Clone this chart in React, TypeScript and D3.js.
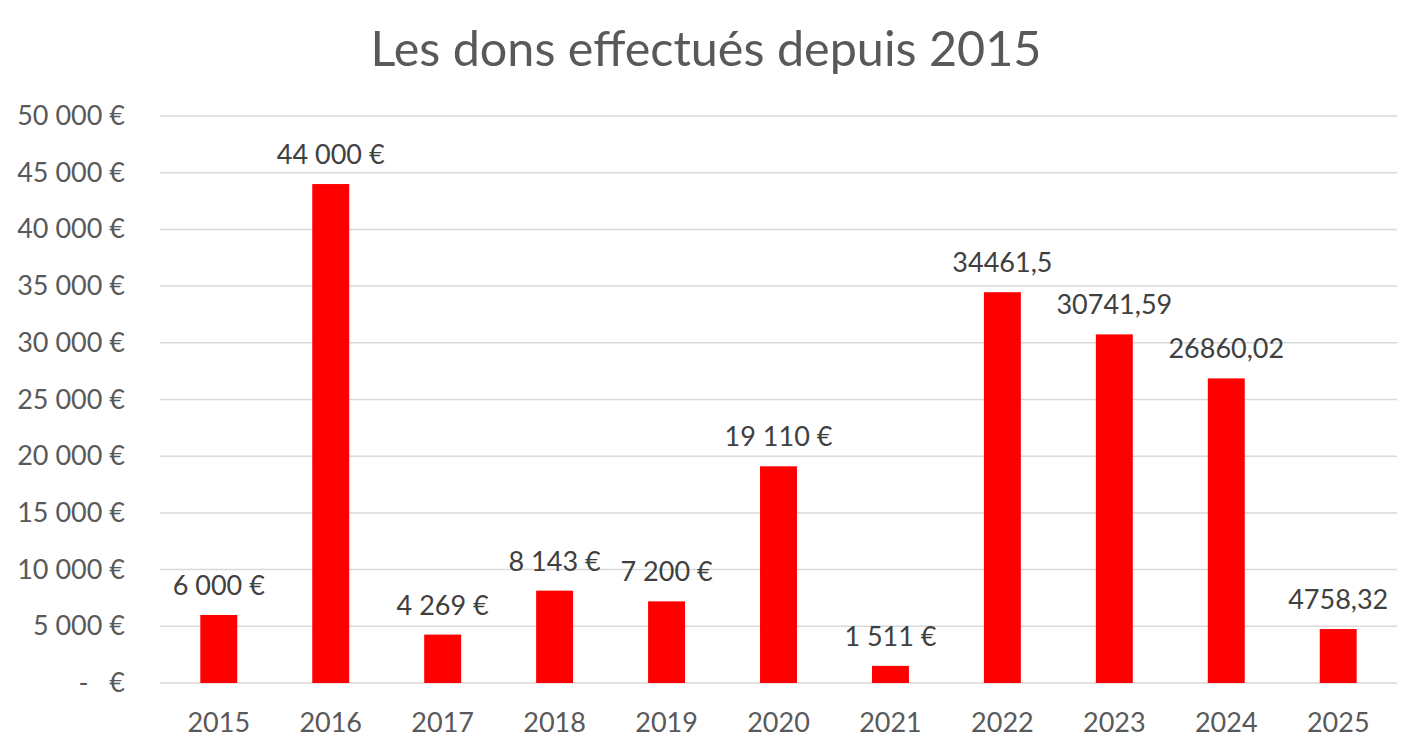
import React, { useEffect, useRef } from 'react';
import * as d3 from 'd3';

const years = ['2015', '2016', '2017', '2018', '2019', '2020', '2021', '2022', '2023', '2024', '2025'];
const dons = [6000, 44000, 4269, 8143, 7200, 19110, 1511, 34461.5, 30741.59, 26860.02, 4758.32];
const donLabels = ['6 000 €', '44 000 €', '4 269 €', '8 143 €', '7 200 €', '19 110 €', '1 511 €', '34461,5', '30741,59', '26860,02', '4758,32'];
const yTicks = [0, 5000, 10000, 15000, 20000, 25000, 30000, 35000, 40000, 45000, 50000];

const W = 1418;
const H = 750;
const FONT = 'Lato, "Open Sans", sans-serif';

const frLocale = d3.formatLocale({ decimal: ',', thousands: '\u00a0', grouping: [3], currency: ['', '\u00a0€'] });
const fmtEuro = frLocale.format('$,.0f');

const App: React.FC = () => {
  const svgRef = useRef<SVGSVGElement>(null);

  useEffect(() => {
    const svg = d3.select(svgRef.current);
    svg.selectAll('*').remove();

    const margin = { top: 116, right: 21, bottom: 67, left: 160 };
    const innerWidth = W - margin.left - margin.right;
    const innerHeight = H - margin.top - margin.bottom;

    const x = d3.scaleBand<string>().domain(years).range([0, innerWidth]).paddingInner(0.67).paddingOuter(0.36);
    const y = d3.scaleLinear().domain([0, 50000]).range([innerHeight, 0]);

    svg.append('rect').attr('width', W).attr('height', H).attr('fill', '#fff');

    // Title
    svg.append('text')
      .attr('x', 706)
      .attr('y', 66)
      .attr('text-anchor', 'middle')
      .style('font-family', FONT)
      .style('font-size', '48.5px')
      .style('fill', '#595959')
      .text('Les dons effectués depuis 2015');

    const g = svg.append('g').attr('transform', `translate(${margin.left},${margin.top})`);

    // Gridlines
    g.selectAll('.grid')
      .data(yTicks)
      .enter().append('line')
      .attr('x1', 0)
      .attr('x2', innerWidth)
      .attr('y1', d => y(d))
      .attr('y2', d => y(d))
      .attr('stroke', '#d9d9d9')
      .attr('stroke-width', 1.5);

    // Y tick labels
    g.selectAll('.ytick')
      .data(yTicks)
      .enter().append('text')
      .attr('x', -35)
      .attr('y', d => y(d) + 9)
      .attr('text-anchor', 'end')
      .attr('xml:space', 'preserve')
      .style('white-space', 'pre')
      .style('font-family', FONT)
      .style('font-size', '27px')
      .style('fill', '#595959')
      .text(d => (d === 0 ? '-   €' : fmtEuro(d)));

    // Bars
    g.selectAll('.bar')
      .data(dons)
      .enter().append('rect')
      .attr('x', (_, i) => x(years[i]) as number)
      .attr('y', d => y(d))
      .attr('width', x.bandwidth())
      .attr('height', d => innerHeight - y(d))
      .attr('fill', '#ff0000');

    // Data labels
    g.selectAll('.lbl')
      .data(dons)
      .enter().append('text')
      .attr('x', (_, i) => (x(years[i]) as number) + x.bandwidth() / 2)
      .attr('y', d => y(d) - 20)
      .attr('text-anchor', 'middle')
      .style('font-family', FONT)
      .style('font-size', '27px')
      .style('fill', '#404040')
      .text((_, i) => donLabels[i]);

    // X labels
    g.selectAll('.xlbl')
      .data(years)
      .enter().append('text')
      .attr('x', d => (x(d) as number) + x.bandwidth() / 2)
      .attr('y', innerHeight + 49)
      .attr('text-anchor', 'middle')
      .style('font-family', FONT)
      .style('font-size', '27px')
      .style('fill', '#595959')
      .text(d => d);
  }, []);

  return (
    <svg ref={svgRef} width={W} height={H} style={{ position: 'absolute', left: 0, top: 0 }} />
  );
};

export default App;
